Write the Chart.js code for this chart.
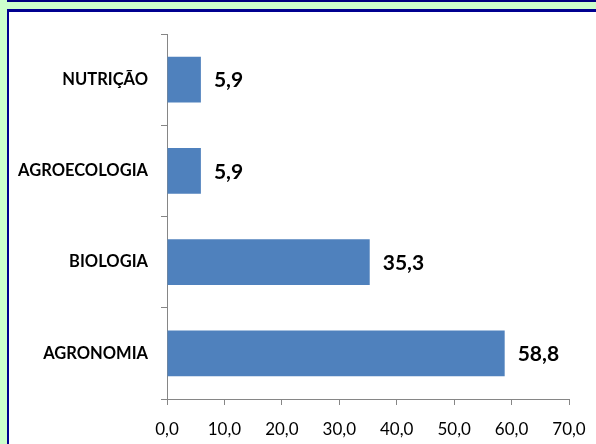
<!DOCTYPE html>
<html>
<head>
<meta charset="utf-8">
<script src="https://cdn.jsdelivr.net/npm/chart.js@4.4.1/dist/chart.umd.min.js"></script>
<style>
    html, body { margin: 0; padding: 0; }
    body { width: 596px; height: 444px; background: #ccffcc; position: relative; overflow: hidden; }
    #topBar { position: absolute; left: 7px; top: 0; width: 589px; height: 2px; background: #000080; }
    #panel { position: absolute; left: 7px; top: 9px; width: 587px; height: 433px; background: #fff;
             border-left: 2px solid #000090; border-top: 3px solid #000090; }
    #wrap { position: absolute; left: 0; top: 0; width: 596px; height: 444px; }
</style>
</head>
<body>
<div id="topBar"></div>
<div id="panel"></div>
<div id="wrap"><canvas id="myChart" width="596" height="444"></canvas></div>
<script>
const categories = ['NUTRIÇÃO', 'AGROECOLOGIA', 'BIOLOGIA', 'AGRONOMIA'];
const percentValues = [5.9, 5.9, 35.3, 58.8];
const xTicks = [0, 10, 20, 30, 40, 50, 60, 70];

const fontFamily = 'Lato, "Open Sans", sans-serif';
const axisColor = '#868686';

function fmt(v) {
    return v.toFixed(1).replace('.', ',');
}

// rótulos de valor ao lado das barras
const valueLabels = {
    id: 'valueLabels',
    afterDatasetsDraw(chart) {
        const ctx = chart.ctx;
        const meta = chart.getDatasetMeta(0);
        ctx.save();
        ctx.font = 'bold 21px ' + fontFamily;
        ctx.fillStyle = '#000';
        ctx.textAlign = 'left';
        ctx.textBaseline = 'middle';
        meta.data.forEach((bar, i) => {
            ctx.fillText(fmt(percentValues[i]), bar.x + 13, bar.y + 1);
        });
        ctx.restore();
    }
};

new Chart(document.getElementById('myChart'), {
    type: 'bar',
    data: {
        labels: categories,
        datasets: [{
            data: percentValues,
            backgroundColor: '#4f81bd',
            borderWidth: 0,
            barPercentage: 0.5,
            categoryPercentage: 1
        }]
    },
    options: {
        indexAxis: 'y',
        responsive: false,
        animation: false,
        layout: { padding: { top: 34, right: 27, left: 0, bottom: 0 } },
        plugins: {
            legend: { display: false },
            tooltip: { enabled: false }
        },
        scales: {
            x: {
                min: 0,
                max: 70,
                afterBuildTicks(axis) {
                    axis.ticks = xTicks.map(v => ({ value: v }));
                },
                afterFit(axis) {
                    axis.height = 45;
                    axis.paddingLeft = 0;
                    axis.paddingRight = 0;
                },
                grid: { drawOnChartArea: false, tickLength: 6, color: axisColor },
                border: { display: true, color: axisColor, width: 1 },
                ticks: {
                    color: '#000',
                    padding: 14,
                    font: { family: fontFamily, size: 17 },
                    callback: function (value) {
                        return fmt(value);
                    }
                }
            },
            y: {
                afterFit(axis) { axis.width = 167; },
                grid: { drawOnChartArea: false, tickLength: 6, color: axisColor, offset: true },
                border: { display: true, color: axisColor, width: 1 },
                ticks: {
                    color: '#000',
                    padding: 13,
                    font: { family: fontFamily, size: 16.5, weight: 'bold' }
                }
            }
        }
    },
    plugins: [valueLabels]
});
</script>
</body>
</html>
